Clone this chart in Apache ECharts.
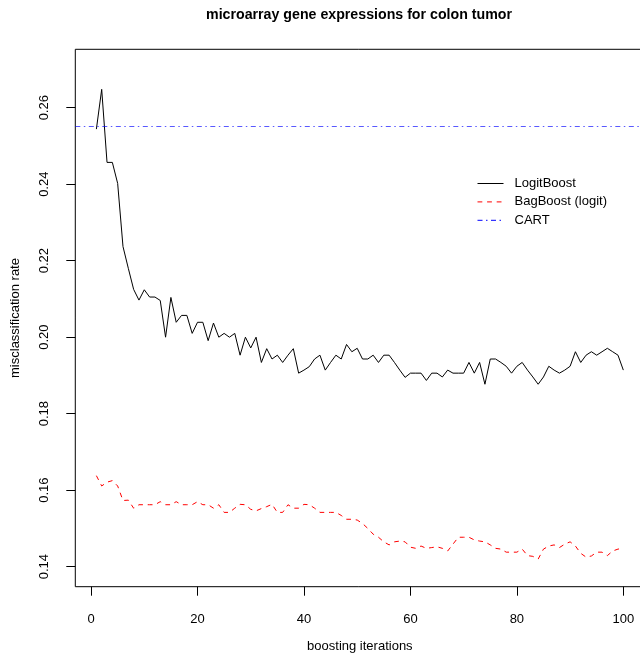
<!DOCTYPE html>
<html>
<head>
<meta charset="utf-8">
<script src="https://cdn.jsdelivr.net/npm/echarts@6/dist/echarts.min.js"></script>
<style>html,body{margin:0;padding:0;background:#fff}#c{width:640px;height:655px}</style>
</head>
<body>
<div id="c"></div>
<script>
const chartTitle = "microarray gene expressions for colon tumor";
const xName = "boosting iterations";
const yName = "misclassification rate";
const seriesNames = ["LogitBoost", "BagBoost (logit)", "CART"];
const xTicks = [0, 20, 40, 60, 80, 100];
const yTicks = [0.14, 0.16, 0.18, 0.20, 0.22, 0.24, 0.26];
const iterations = Array.from({length: 100}, (_, i) => i + 1);
const logitBoost = [
  0.2544, 0.2648, 0.2457, 0.2457, 0.2402, 0.2237, 0.2180, 0.2125, 0.2097, 0.2124,
  0.2105, 0.2105, 0.2096, 0.2000, 0.2104, 0.2039, 0.2057, 0.2057, 0.2010, 0.2039,
  0.2039, 0.1991, 0.2037, 0.2000, 0.2010, 0.2000, 0.2010, 0.1953, 0.2000, 0.1972,
  0.2000, 0.1934, 0.1970, 0.1943, 0.1953, 0.1934, 0.1953, 0.1970, 0.1906, 0.1914,
  0.1923, 0.1943, 0.1953, 0.1914, 0.1934, 0.1953, 0.1943, 0.1981, 0.1962, 0.1971,
  0.1943, 0.1943, 0.1953, 0.1934, 0.1953, 0.1953, 0.1934, 0.1914, 0.1895, 0.1906,
  0.1906, 0.1906, 0.1887, 0.1906, 0.1906, 0.1896, 0.1914, 0.1906, 0.1906, 0.1906,
  0.1934, 0.1906, 0.1934, 0.1877, 0.1943, 0.1943, 0.1934, 0.1924, 0.1906, 0.1924,
  0.1934, 0.1914, 0.1896, 0.1877, 0.1896, 0.1924, 0.1914, 0.1906, 0.1914, 0.1924,
  0.1962, 0.1934, 0.1953, 0.1962, 0.1953, 0.1962, 0.1971, 0.1962, 0.1953, 0.1914
];
const bagBoost = [
  0.1638, 0.1611, 0.1621, 0.1625, 0.1611, 0.1573, 0.1574, 0.1553, 0.1562, 0.1562,
  0.1562, 0.1562, 0.1570, 0.1562, 0.1562, 0.1570, 0.1562, 0.1562, 0.1562, 0.1570,
  0.1562, 0.1562, 0.1553, 0.1562, 0.1542, 0.1542, 0.1553, 0.1563, 0.1562, 0.1550,
  0.1546, 0.1552, 0.1557, 0.1563, 0.1542, 0.1542, 0.1562, 0.1553, 0.1553, 0.1563,
  0.1562, 0.1553, 0.1542, 0.1542, 0.1542, 0.1542, 0.1534, 0.1524, 0.1524, 0.1522,
  0.1513, 0.1500, 0.1485, 0.1477, 0.1465, 0.1457, 0.1465, 0.1467, 0.1465, 0.1451,
  0.1448, 0.1454, 0.1448, 0.1450, 0.1452, 0.1448, 0.1441, 0.1459, 0.1477, 0.1477,
  0.1477, 0.1470, 0.1467, 0.1465, 0.1457, 0.1448, 0.1446, 0.1438, 0.1438, 0.1438,
  0.1446, 0.1429, 0.1427, 0.1420, 0.1446, 0.1454, 0.1457, 0.1450, 0.1459, 0.1465,
  0.1454, 0.1435, 0.1425, 0.1428, 0.1438, 0.1438, 0.1429, 0.1441, 0.1446, 0.1448
];
const cartRate = 0.2552;

const FONT = "'Liberation Sans', Arial, Helvetica, sans-serif";
const chart = echarts.init(document.getElementById('c'), null, {renderer: 'canvas'});
const pair = (vals) => iterations.map((x, i) => [x, vals[i]]);
const hiddenSymbol = {color: 'transparent', borderColor: 'transparent', borderWidth: 0, opacity: 0};
const cartDash = [5, 3.5, 1.5, 3.5];

chart.setOption({
  animation: false,
  backgroundColor: '#ffffff',
  title: {
    text: chartTitle,
    left: 359,
    textAlign: 'center',
    top: 8,
    padding: 0,
    textStyle: {fontFamily: FONT, fontSize: 14.2, fontWeight: 'bold', color: '#000'}
  },
  legend: {
    orient: 'vertical',
    left: 477,
    top: 177,
    padding: 0,
    itemWidth: 26,
    itemHeight: 10,
    itemGap: 5.4,
    data: seriesNames,
    itemStyle: hiddenSymbol,
    lineStyle: {width: 1},
    textStyle: {fontFamily: FONT, fontSize: 13, color: '#000', padding: [0, 0, 0, 6]}
  },
  grid: {
    left: 75.3, top: 49.3, width: 569.1, height: 537.4,
    show: true, borderColor: '#000', borderWidth: 1, backgroundColor: 'transparent',
    containLabel: false,
    outerBoundsMode: 'none'
  },
  xAxis: {
    type: 'value',
    min: -2.96, max: 103.96,
    name: xName, nameLocation: 'middle', nameGap: 53,
    nameTextStyle: {fontFamily: FONT, fontSize: 13, color: '#000'},
    axisLine: {show: false, onZero: false},
    axisTick: {show: true, length: 9, lineStyle: {color: '#000'}, customValues: xTicks},
    axisLabel: {fontFamily: FONT, fontSize: 13, color: '#000', margin: 26, customValues: xTicks},
    splitLine: {show: false}
  },
  yAxis: {
    type: 'value',
    min: 0.13477, max: 0.27527,
    name: yName, nameLocation: 'middle', nameGap: 53, nameRotate: 90,
    nameTextStyle: {fontFamily: FONT, fontSize: 13, color: '#000'},
    axisLine: {show: false, onZero: false},
    axisTick: {show: true, length: 9, lineStyle: {color: '#000'}, customValues: yTicks},
    axisLabel: {fontFamily: FONT, fontSize: 13, color: '#000', margin: 24, rotate: 90,
      customValues: yTicks, formatter: (v) => v.toFixed(2)},
    splitLine: {show: false}
  },
  series: [
    {
      name: seriesNames[0], type: 'line', data: pair(logitBoost),
      symbol: 'none', lineStyle: {color: '#000', width: 1}, itemStyle: {color: '#000'},
      markLine: {
        silent: true, symbol: ['none', 'none'], label: {show: false},
        precision: 6,
        lineStyle: {color: '#0000ff', opacity: 0.65, width: 1, type: cartDash},
        data: [{yAxis: cartRate}]
      }
    },
    {
      name: seriesNames[1], type: 'line', data: pair(bagBoost),
      symbol: 'none', lineStyle: {color: '#ff0000', width: 1, type: [4.8, 4.8]}, itemStyle: {color: '#ff0000'}
    },
    {
      name: seriesNames[2], type: 'line', data: [],
      symbol: 'none', lineStyle: {color: '#0000ff', width: 1, type: cartDash}, itemStyle: {color: '#0000ff'}
    }
  ]
});
</script>
</body>
</html>
